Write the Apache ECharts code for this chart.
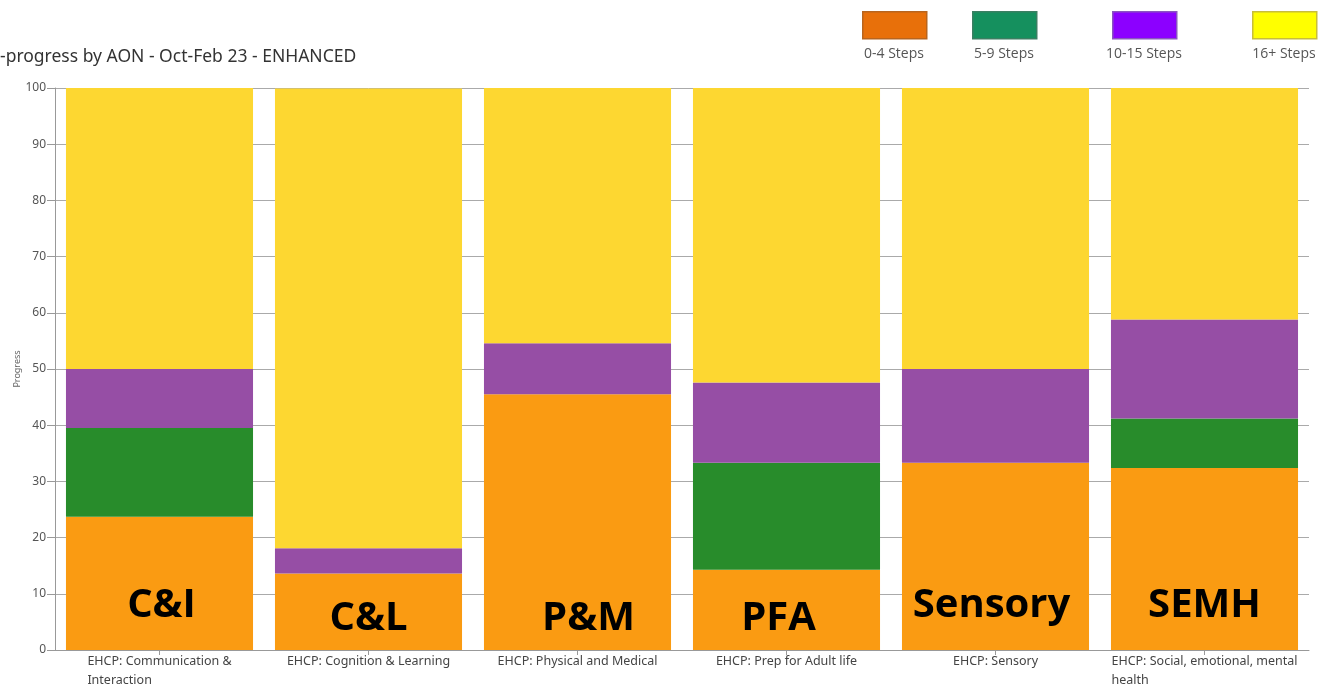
<!DOCTYPE html>
<html>
<head>
<meta charset="utf-8">
<script src="https://cdn.jsdelivr.net/npm/echarts@6/dist/echarts.min.js"></script>
<style>
  html, body { margin: 0; padding: 0; background: #fff; }
  #chart { width: 1321px; height: 686px; }
</style>
</head>
<body>
<div id="chart"></div>
<script>
  // categories (x axis tick labels)
  const categories = [
    'EHCP: Communication &\nInteraction',
    'EHCP: Cognition & Learning',
    'EHCP: Physical and Medical',
    'EHCP: Prep for Adult life',
    'EHCP: Sensory',
    'EHCP: Social, emotional, mental\nhealth'
  ]
  // short tags written over the bars
  const tags = ['C&I', 'C&L', 'P&M', 'PFA', 'Sensory', 'SEMH']

  // percentage of pupils in each band
  const steps0to4 = [23.7, 13.6, 45.5, 14.3, 33.3, 32.4]
  const steps5to9 = [15.8, 0, 0, 19.0, 0, 8.8]
  const steps10to15 = [10.5, 4.5, 9.1, 14.3, 16.7, 17.6]
  const steps16plus = [50.0, 81.8, 45.5, 52.4, 50.0, 41.2]

  const bandNames = ['0-4 Steps', '5-9 Steps', '10-15 Steps', '16+ Steps']
  const yTicks = [0, 10, 20, 30, 40, 50, 60, 70, 80, 90, 100]

  // bar colours and the (different) legend swatch colours
  const barColors = ['#FA9B12', '#288C2B', '#964EA5', '#FDD731']
  const swatchColors = ['#E8700A', '#15905E', '#8C00FF', '#FFFF00']
  const swatchBorders = ['#B8651E', '#3B7F62', '#8A55C0', '#C8BE3A']

  // small nudges for the big tags (dx, dy)
  const tagShift = [[2, -13], [0, 0], [11, 0], [-8, 0], [-4, -13], [0, -13]]

  let myChart = echarts.init(document.getElementById('chart'))

  const bandData = [steps0to4, steps5to9, steps10to15, steps16plus]

  let series = bandData.map((vals, k) => {
    let s = {
      name: bandNames[k],
      type: 'bar',
      stack: 'total',
      barCategoryGap: '10.5%',
      data: vals,
      itemStyle: { color: barColors[k] },
      emphasis: { disabled: true }
    }
    if (k === 0) {
      s.label = {
        show: true,
        position: 'insideBottom',
        distance: 11,
        formatter: p => tags[p.dataIndex],
        fontFamily: 'Open Sans',
        fontWeight: 'bold',
        fontSize: 40,
        color: '#000'
      }
      s.labelLayout = p => ({ dx: tagShift[p.dataIndex][0], dy: tagShift[p.dataIndex][1] })
    }
    return s
  })

  // legend drawn by hand: swatch with the text under it
  const swatchX = [862, 972, 1112, 1252]
  let graphic = []
  bandNames.forEach((n, k) => {
    graphic.push({
      type: 'rect',
      left: swatchX[k],
      top: 11,
      shape: { width: 64, height: 27 },
      style: { fill: swatchColors[k], stroke: swatchBorders[k], lineWidth: 1.5 }
    })
    graphic.push({
      type: 'text',
      x: swatchX[k] + 32,
      y: 54,
      style: { text: n, fill: '#555', font: '14px "Open Sans"', align: 'center', verticalAlign: 'middle' }
    })
  })

  myChart.setOption({
    animation: false,
    backgroundColor: '#fff',
    title: {
      text: '-progress by AON - Oct-Feb 23 - ENHANCED',
      left: 0,
      top: 48,
      padding: 0,
      textStyle: {
        fontFamily: 'Noto Sans',
        fontWeight: 'normal',
        fontSize: 17.5,
        color: '#333'
      }
    },
    grid: {
      left: 55,
      right: 12,
      top: 88,
      bottom: 36,
      outerBoundsMode: 'none'
    },
    xAxis: {
      type: 'category',
      data: categories,
      axisLine: { show: true, lineStyle: { color: '#999', width: 1 } },
      axisTick: { show: true, alignWithLabel: true, length: 5, lineStyle: { color: '#999' } },
      axisLabel: {
        interval: 0,
        margin: 2,
        formatter: v => '{a|' + v + '}',
        rich: {
          a: {
            align: 'left',
            fontFamily: 'Noto Sans',
            fontSize: 12.5,
            lineHeight: 19,
            color: '#444'
          }
        }
      },
      splitLine: { show: false }
    },
    yAxis: {
      type: 'value',
      min: yTicks[0],
      max: yTicks[yTicks.length - 1],
      interval: yTicks[1] - yTicks[0],
      name: 'Progress',
      nameLocation: 'middle',
      nameGap: 33,
      nameMoveOverlap: false,
      nameTextStyle: { fontFamily: 'Noto Sans', fontSize: 9, color: '#666' },
      axisLine: { show: true, lineStyle: { color: '#999', width: 1 } },
      axisTick: { show: true, length: 8, lineStyle: { color: '#999' } },
      axisLabel: {
        margin: 9,
        fontFamily: 'Noto Sans',
        fontSize: 12,
        color: '#555'
      },
      splitLine: { show: true, lineStyle: { color: '#aaa', width: 1 } }
    },
    graphic: graphic,
    series: series
  })

  window.onresize = function () {
    myChart.resize()
  }
</script>
</body>
</html>
